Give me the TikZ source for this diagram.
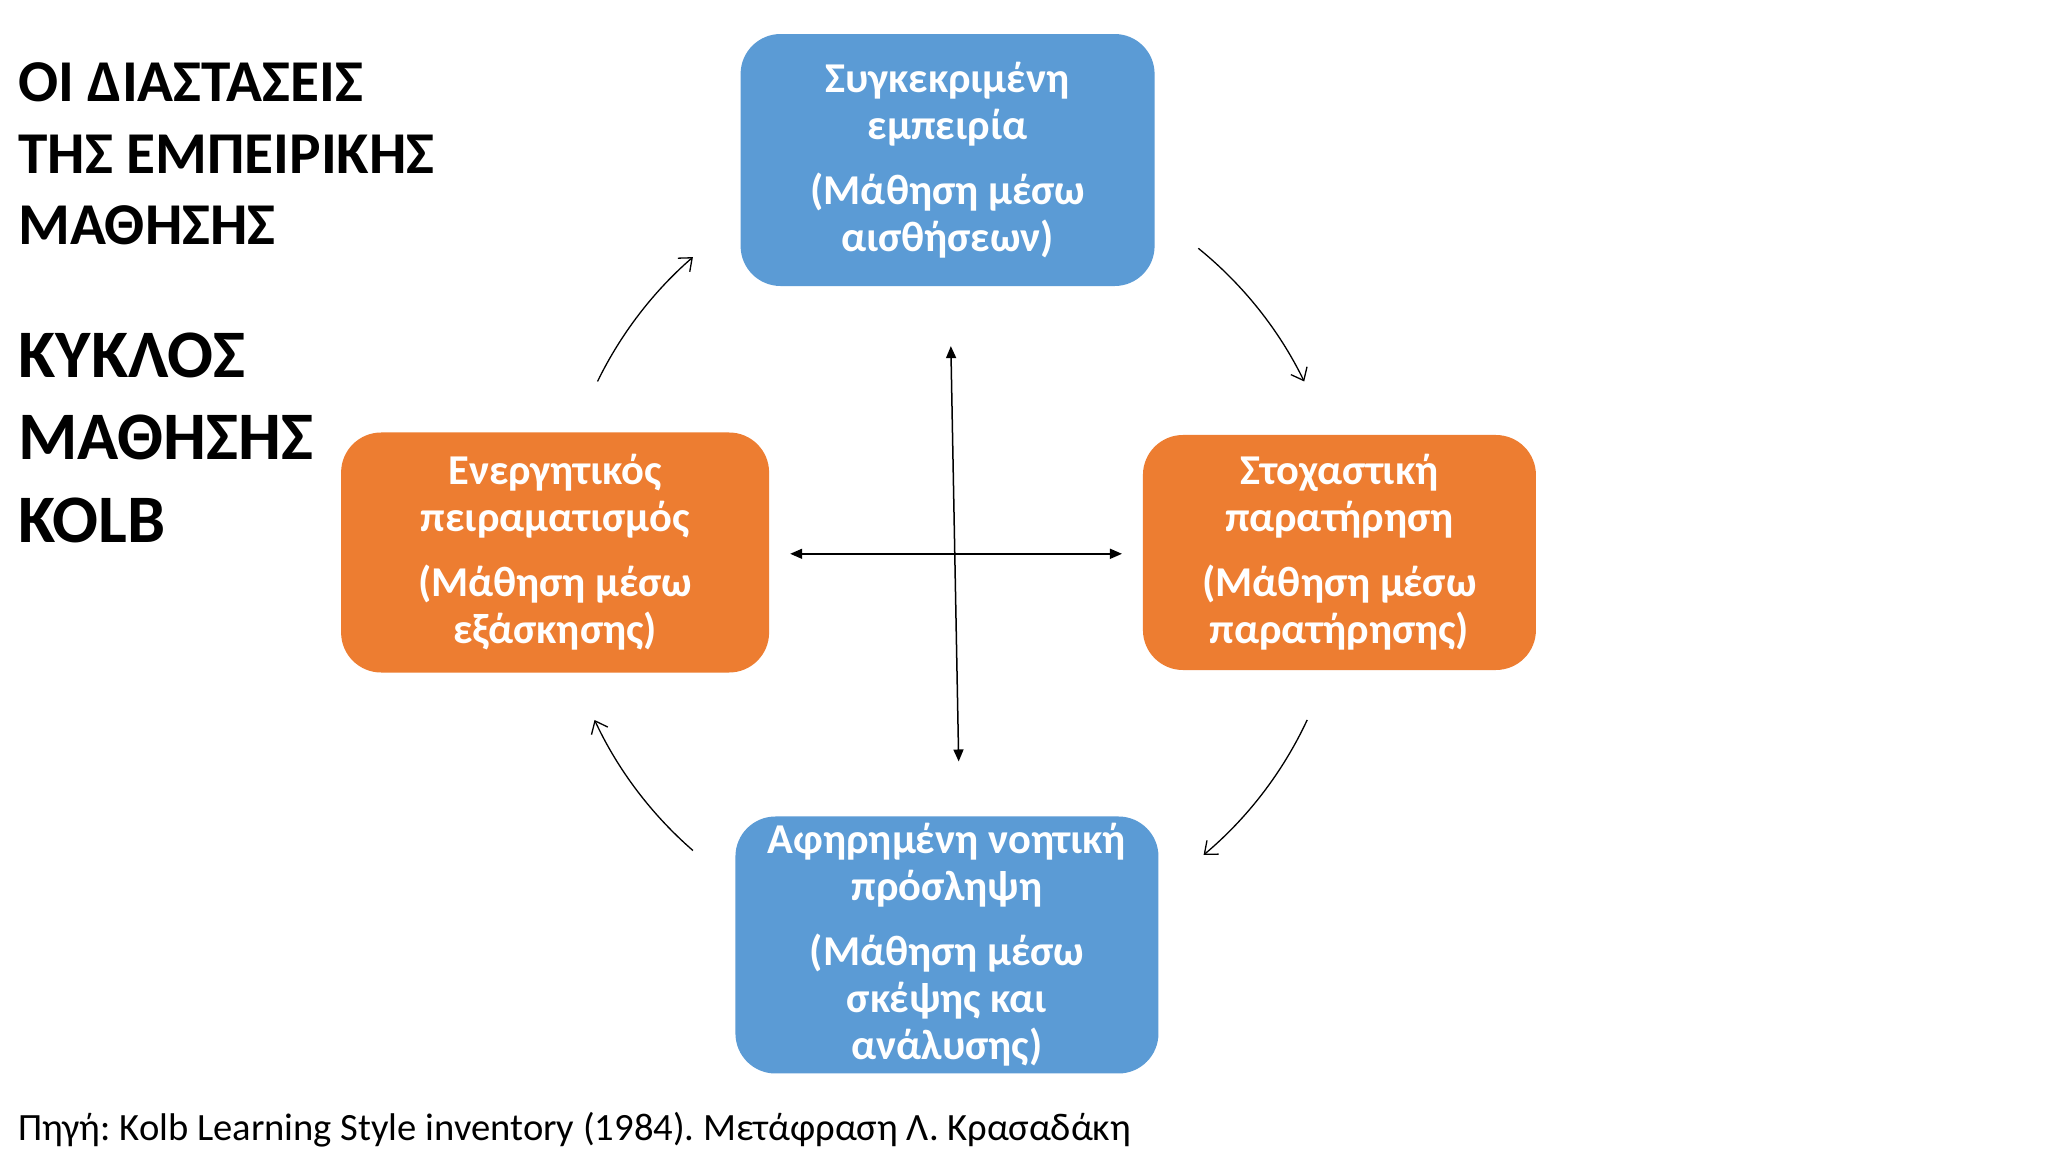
\documentclass[tikz,border=0pt]{standalone}
\usepackage{fontspec}
\setmainfont{Carlito}
\usetikzlibrary{arrows.meta}
\definecolor{kblue}{HTML}{5B9BD5}
\definecolor{korange}{HTML}{ED7D31}
\frenchspacing
\tikzset{
  kbox/.style={rounded corners=40pt, text=white, align=center, inner sep=0pt,
    font=\bfseries\fontsize{42.5}{47}\selectfont},
  ttlA/.style={anchor=base west, inner sep=0pt, font=\bfseries\fontsize{59.3}{68}\selectfont},
  ttlB/.style={anchor=base west, inner sep=0pt, font=\bfseries\fontsize{68}{80}\selectfont},
  axis/.style={line width=1.5pt, {Triangle[length=12pt,width=10pt]}-{Triangle[length=12pt,width=10pt]}},
  cyc/.style={line width=1.3pt, -{Straight Barb[length=11pt,width=18pt,line width=1.3pt]}}
}
\begin{document}
\begin{tikzpicture}[x=1.30612pt, y=-1.30612pt]
\useasboundingbox[fill=white] (0,0) rectangle (1568,882);

% title
\node[ttlA] (t1) at (14,78) {ΟΙ ΔΙΑΣΤΑΣΕΙΣ};
\node[ttlA] (t2) at (14,133) {ΤΗΣ ΕΜΠΕΙΡΙΚΗΣ};
\node[ttlA] (t3) at (14,187) {ΜΑΘΗΣΗΣ};
\node[ttlB] (t4) at (14,289) {ΚΥΚΛΟΣ};
\node[ttlB] (t5) at (14,352) {ΜΑΘΗΣΗΣ};
\node[ttlB] (t6) at (14,415) {KOLB};

% boxes
\node[kbox, fill=kblue, minimum width=414pt, minimum height=252pt] (top) at (725.5,122.5)
  {Συγκεκριμένη\\εμπειρία\\[18pt](Μάθηση μέσω\\αισθήσεων)};
\node[kbox, fill=korange, minimum width=428pt, minimum height=240pt] (left) at (425,423)
  {Ενεργητικός\\πειραματισμός\\[18pt](Μάθηση μέσω\\εξάσκησης)};
\node[kbox, fill=korange, minimum width=393pt, minimum height=235pt] (right) at (1025.5,423)
  {Στοχαστική\\παρατήρηση\\[18pt](Μάθηση μέσω\\παρατήρησης)};
\node[kbox, fill=kblue, minimum width=423pt, minimum height=257pt] (bottom) at (725,723.5)
  {Αφηρημένη νοητική\\πρόσληψη\\[18pt](Μάθηση μέσω\\σκέψης και\\ανάλυσης)};

% axes
\coordinate (vt) at (728,265);
\coordinate (vb) at (734,583);
\coordinate (hl) at (605,424);
\coordinate (hr) at (859,424);
\draw[axis] (vt) -- (vb);
\draw[axis] (hl) -- (hr);

% cycle arcs
\coordinate (c) at (728,424);
\draw[cyc] ([shift={(-154:301)}]c) arc[start angle=-154, end angle=-131, radius=301];
\draw[cyc] ([shift={(-51:301)}]c) arc[start angle=-51, end angle=-26, radius=301];
\draw[cyc] ([shift={(25:301)}]c) arc[start angle=25, end angle=50, radius=301];
\draw[cyc] ([shift={(131:301)}]c) arc[start angle=131, end angle=155, radius=301];

% source
\node[anchor=base west, inner sep=0pt, font=\fontsize{38.6}{45}\selectfont] (src) at (14,873)
  {Πηγή: Kolb Learning Style inventory (1984). Μετάφραση Λ. Κρασαδάκη};
\end{tikzpicture}
\end{document}
